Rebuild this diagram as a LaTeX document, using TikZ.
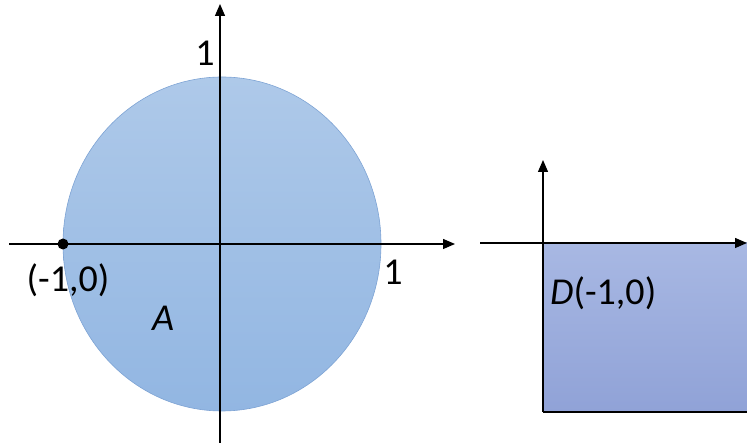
\documentclass[tikz,border=0pt]{standalone}
\usepackage{fontspec}
\setmainfont{Carlito}
\usetikzlibrary{arrows.meta}
\definecolor{circtop}{RGB}{174,201,233}
\definecolor{circbot}{RGB}{146,182,226}
\definecolor{circedge}{RGB}{125,163,212}
\definecolor{recttop}{RGB}{168,184,227}
\definecolor{rectbot}{RGB}{144,162,215}
\tikzset{
  axis/.style={line width=1.3pt, black, -{Triangle[length=12pt,width=10pt]}},
  plainline/.style={line width=1.3pt, black},
  lbl/.style={font=\fontsize{38}{40}\selectfont, inner sep=0pt},
}
\begin{document}
\begin{tikzpicture}[x=1pt,y=1pt]
\useasboundingbox (0,0) rectangle (747,443);
% left panel: disc A
\shade[top color=circtop, bottom color=circbot, draw=circedge, line width=0.6pt]
  (222,199) ellipse [x radius=159, y radius=167];
\coordinate (xl) at (9,199);
\coordinate (xr) at (455,199);
\coordinate (yb) at (220,0);
\coordinate (yt) at (220,439);
\draw[axis] (xl) -- (xr);
\draw[axis] (yb) -- (yt);
\coordinate (m1) at (63,199);
\fill (m1) circle (5.5);
\node[lbl] (ly) at (205,390) {1};
\node[lbl] (lx) at (393,171) {1};
\node[lbl] (lm) at (68,163) {(-1,0)};
\node[lbl] (la) at (163,125) {\itshape A};
% right panel: quarter plane D
\shade[top color=recttop, bottom color=rectbot] (543,31) rectangle (747,200);
\coordinate (ux) at (480,200);
\coordinate (vx) at (747,200);
\coordinate (uy) at (543,31);
\coordinate (vy) at (543,283);
\coordinate (br) at (747,31);
\draw[axis] (ux) -- (vx);
\draw[axis] (uy) -- (vy);
\draw[plainline] (uy) -- (br);
\node[lbl, anchor=west] (ld) at (550,150) {\itshape D\upshape(-1,0)};
\end{tikzpicture}
\end{document}
